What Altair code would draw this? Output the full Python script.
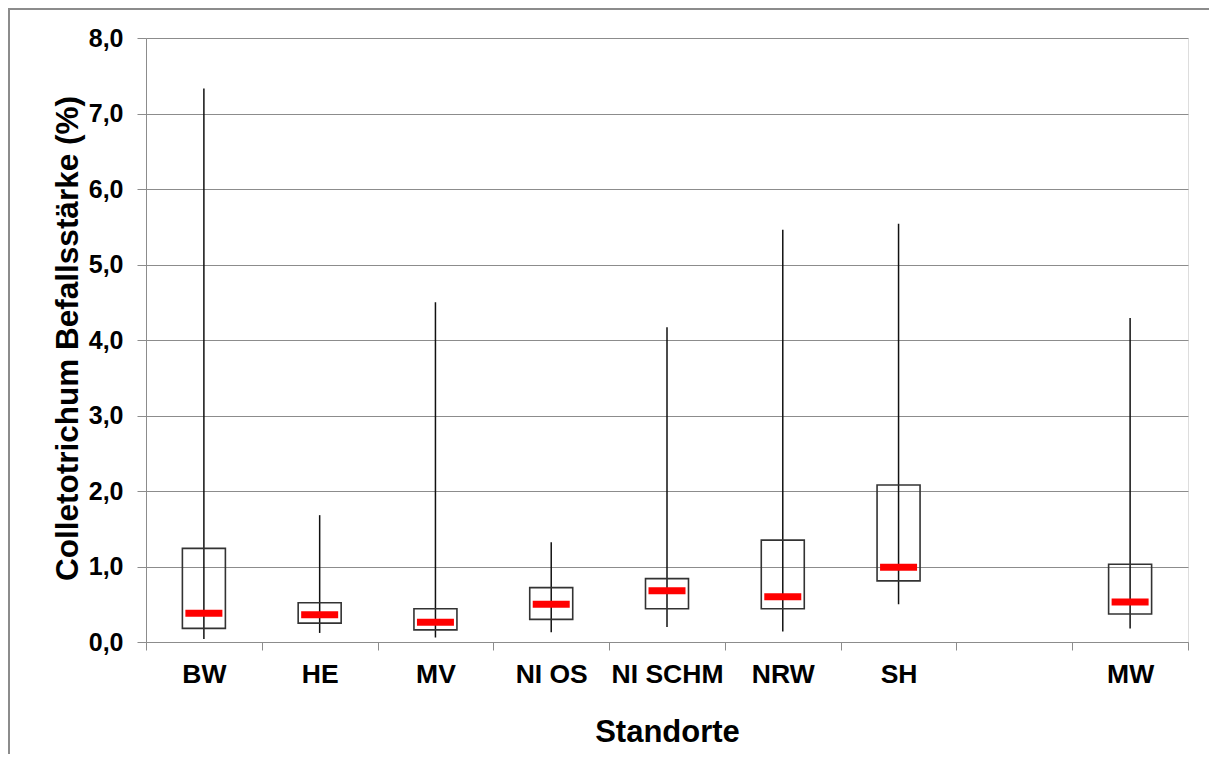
import altair as alt
import pandas as pd

# Data
standorte = ["BW", "HE", "MV", "NI OS", "NI SCHM", "NRW", "SH", "MW"]
whisker_low = [0.04, 0.12, 0.06, 0.13, 0.20, 0.14, 0.50, 0.18]
quartile_1 = [0.18, 0.25, 0.16, 0.30, 0.44, 0.44, 0.81, 0.37]
median = [0.38, 0.36, 0.26, 0.50, 0.68, 0.60, 0.99, 0.53]
quartile_3 = [1.24, 0.52, 0.44, 0.72, 0.84, 1.35, 2.08, 1.03]
whisker_high = [7.33, 1.68, 4.50, 1.32, 4.17, 5.46, 5.54, 4.29]

# axis order, with the empty slot between SH and MW
x_domain = ["BW", "HE", "MV", "NI OS", "NI SCHM", "NRW", "SH", " ", "MW"]
y_ticks = [0, 1, 2, 3, 4, 5, 6, 7, 8]

df = pd.DataFrame({
    "Standort": standorte,
    "lo": whisker_low,
    "q1": quartile_1,
    "med": median,
    "q3": quartile_3,
    "hi": whisker_high,
})

FONT = "Liberation Sans"
GRID = "#8c8c8c"

x_enc = alt.X(
    "Standort:N",
    scale=alt.Scale(domain=x_domain, paddingInner=0, paddingOuter=0),
    axis=alt.Axis(
        title="Standorte",
        labelAngle=0,
        labelFont=FONT,
        labelFontSize=26.5,
        labelFontWeight="bold",
        labelColor="#000000",
        labelPadding=11,
        labelBaseline="top",
        tickBand="extent",
        tickSize=8,
        tickColor=GRID,
        domainColor=GRID,
        titleFont=FONT,
        titleFontSize=31,
        titleFontWeight="bold",
        titleColor="#000000",
        titleBaseline="alphabetic",
        titleY=99,
        titleAnchor="middle",
        grid=False,
    ),
)

y_scale = alt.Scale(domain=[0, 8], nice=False, zero=True)
y_axis = alt.Axis(
    title="Colletotrichum Befallsstärke (%)",
    values=y_ticks,
    labelExpr="replace(format(datum.value, '.1f'), '.', ',')",
    labelFont=FONT,
    labelFontSize=25,
    labelFontWeight="bold",
    labelColor="#000000",
    labelPadding=14,
    tickSize=9,
    tickColor=GRID,
    domainColor=GRID,
    grid=True,
    gridColor=GRID,
    gridWidth=1,
    gridOpacity=1,
    titleFont=FONT,
    titleFontSize=31.5,
    titleFontWeight="bold",
    titleColor="#000000",
    titleAngle=-90,
    titleBaseline="alphabetic",
    titleAlign="center",
    titleX=-69,
    titleY=300,
)

base = alt.Chart(df)

whiskers = base.mark_rule(color="#111111", strokeWidth=1.5).encode(
    x=x_enc,
    y=alt.Y("lo:Q", scale=y_scale, axis=y_axis),
    y2="hi:Q",
)

boxes = base.mark_bar(
    size=43, fill="#ffffff", fillOpacity=0, stroke="#333333", strokeWidth=1.6
).encode(
    x=x_enc,
    y=alt.Y("q1:Q", scale=y_scale, axis=y_axis),
    y2="q3:Q",
)

medians = base.mark_tick(color="#ff0000", thickness=7, size=37, opacity=1).encode(
    x=x_enc,
    y=alt.Y("med:Q", scale=y_scale, axis=y_axis),
)

frame_top = base.mark_rule(color="#8c8c8c", strokeWidth=2).encode(
    x=alt.value(-138), x2=alt.value(1200), y=alt.value(-29)
)
frame_left = base.mark_rule(color="#8c8c8c", strokeWidth=2).encode(
    x=alt.value(-137), y=alt.value(-30), y2=alt.value(720)
)

chart = alt.layer(whiskers, boxes, medians, frame_top, frame_left).properties(
    width=1042,
    height=604,
    padding={"left": 138, "top": 30, "right": 21, "bottom": 112},
    autosize=alt.AutoSizeParams(type="none"),
).configure_view(stroke=None).configure(background="#ffffff")

chart.save("out.html", embed_options={"renderer": "svg", "actions": False})
